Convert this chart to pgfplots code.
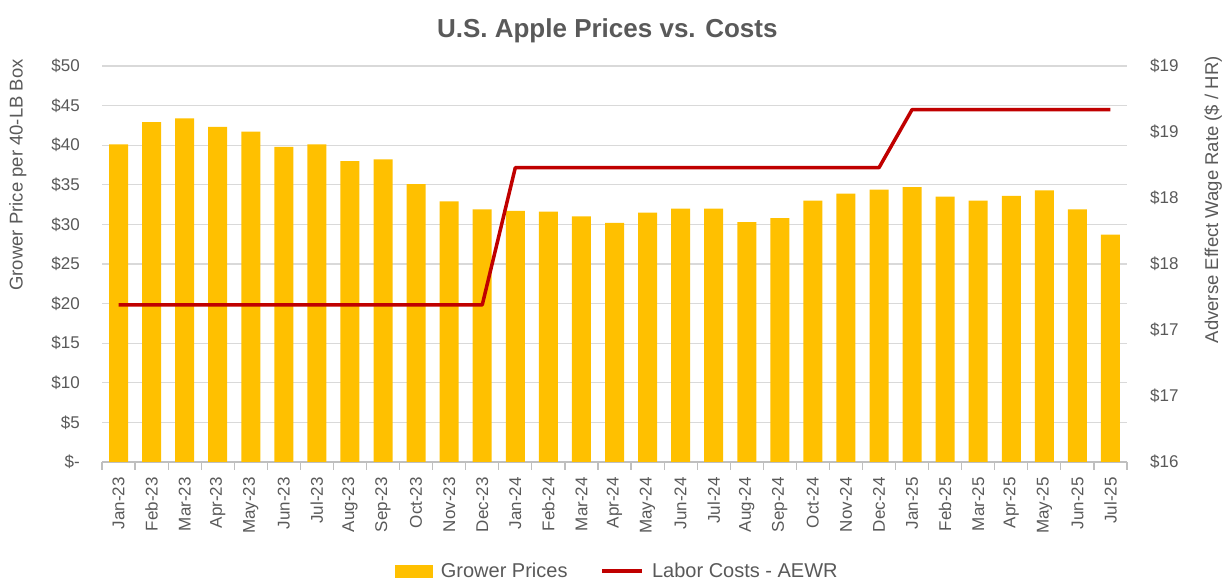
\documentclass[border=0pt]{standalone}
\usepackage{fontspec}
\setmainfont{Liberation Sans}
\usepackage{pgfplots}
\pgfplotsset{compat=1.18}
\definecolor{gold}{HTML}{FFC000}
\definecolor{aewr}{HTML}{C00000}
\definecolor{gridgray}{HTML}{D9D9D9}
\definecolor{axisgray}{HTML}{BFBFBF}
\definecolor{textgray}{HTML}{595959}
\pgfplotstableread{
idx price
0 40.1
1 42.9
2 43.4
3 42.3
4 41.7
5 39.8
6 40.1
7 38.0
8 38.2
9 35.1
10 32.9
11 31.9
12 31.7
13 31.6
14 31.0
15 30.2
16 31.5
17 32.0
18 32.0
19 30.3
20 30.8
21 33.0
22 33.9
23 34.4
24 34.7
25 33.5
26 33.0
27 33.6
28 34.3
29 31.9
30 28.7
}\prices
\pgfplotstableread{
idx wage
0 17.19
1 17.19
2 17.19
3 17.19
4 17.19
5 17.19
6 17.19
7 17.19
8 17.19
9 17.19
10 17.19
11 17.19
12 18.23
13 18.23
14 18.23
15 18.23
16 18.23
17 18.23
18 18.23
19 18.23
20 18.23
21 18.23
22 18.23
23 18.23
24 18.67
25 18.67
26 18.67
27 18.67
28 18.67
29 18.67
30 18.67
}\wages
\begin{document}
\begin{tikzpicture}[x=1pt,y=1pt]
\useasboundingbox (0,0) rectangle (1225,580);
\begin{axis}[
  at={(102pt,118pt)}, anchor=south west,
  scale only axis, width=1025pt, height=396pt,
  xmin=-0.5, xmax=30.5, ymin=0, ymax=50,
  axis x line*=bottom, axis y line*=left,
  y axis line style={draw=none},
  x axis line style={draw=axisgray, line width=1.2pt},
  tick align=outside,
  major tick length=0pt, minor tick length=8pt,
  minor x tick style={draw=axisgray, line width=1.2pt},
  ytick style={draw=none},
  xtick={0,...,30},
  minor xtick={-0.5,0.5,...,30.5},
  xticklabels={Jan-23,Feb-23,Mar-23,Apr-23,May-23,Jun-23,Jul-23,Aug-23,Sep-23,Oct-23,Nov-23,Dec-23,Jan-24,Feb-24,Mar-24,Apr-24,May-24,Jun-24,Jul-24,Aug-24,Sep-24,Oct-24,Nov-24,Dec-24,Jan-25,Feb-25,Mar-25,Apr-25,May-25,Jun-25,Jul-25},
  xticklabel style={rotate=90, anchor=east, inner sep=0pt, font=\fontsize{17}{20}\selectfont, text=textgray},
  xticklabel shift=15pt,
  ytick={0,5,...,50},
  yticklabels={\$-,\$5,\$10,\$15,\$20,\$25,\$30,\$35,\$40,\$45,\$50},
  yticklabel style={inner sep=0pt, font=\fontsize{17}{20}\selectfont, text=textgray},
  yticklabel shift=22pt,
  ymajorgrids, major grid style={draw=gridgray, line width=1.2pt},
  ylabel={Grower Price per 40-LB Box},
  ylabel style={at={(rel axis cs:-0.082,0.725)}, anchor=center, font=\fontsize{18.5}{22}\selectfont, text=textgray},
  title={U.S. Apple Prices vs. Costs},
  title style={at={(0.493,1)}, anchor=base, yshift=22pt, font=\fontsize{26}{30}\selectfont\bfseries, text=textgray},
  clip=false,
]
\addplot[ybar, bar width=19pt, fill=gold, draw=none] table[x=idx, y=price] {\prices};
\end{axis}
\begin{axis}[
  at={(102pt,118pt)}, anchor=south west,
  scale only axis, width=1025pt, height=396pt,
  xmin=-0.5, xmax=30.5, ymin=16, ymax=19,
  axis x line=none, axis y line*=right,
  y axis line style={draw=none},
  ytick style={draw=none},
  major tick length=0pt,
  ytick={16,16.5,17,17.5,18,18.5,19},
  yticklabels={\$16,\$17,\$17,\$18,\$18,\$19,\$19},
  yticklabel style={inner sep=0pt, font=\fontsize{17}{20}\selectfont, text=textgray},
  yticklabel shift=23pt,
  ylabel={Adverse Effect Wage Rate (\$ / HR)},
  ylabel style={at={(rel axis cs:1.084,0.662)}, anchor=center, rotate=0, font=\fontsize{18.5}{22}\selectfont, text=textgray},
  legend columns=2,
  legend cell align=left,
  legend style={at={(rel axis cs:0.503,-0.275)}, anchor=center, draw=none, fill=none,
    font=\fontsize{20}{24}\selectfont, text=textgray,
    /tikz/every odd column/.append style={column sep=6pt},
    /tikz/every even column/.append style={column sep=31pt}},
  clip=false,
]
\addlegendimage{legend image code/.code={\fill[gold] (0pt,-6pt) rectangle (37pt,6pt);}}
\addlegendentry{Grower Prices}
\addplot[aewr, line width=3.5pt, no marks, line join=round,
  legend image code/.code={\draw[aewr, line width=3.5pt] (0pt,0pt) -- (40pt,0pt);}]
  table[x=idx, y=wage] {\wages};
\addlegendentry{Labor Costs - AEWR}
\end{axis}
\end{tikzpicture}
\end{document}
